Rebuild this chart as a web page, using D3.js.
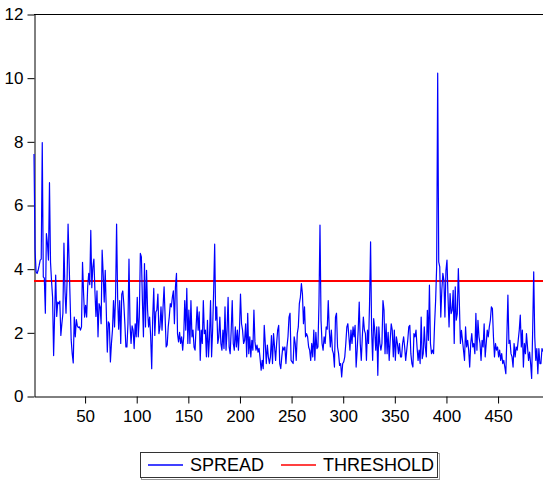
<!DOCTYPE html>
<html>
<head>
<meta charset="utf-8">
<script src="https://cdn.jsdelivr.net/npm/d3@7"></script>
<style>
  html, body { margin: 0; padding: 0; background: #fff; }
  svg { display: block; }
  text { font-family: "Liberation Sans", Arial, sans-serif; fill: #000; }
</style>
</head>
<body>
<div id="chart"></div>
<script>
const spread = [
  7.6, 4.6, 3.9, 3.85, 3.95, 4.1, 4.27, 4.3, 7.96, 3.74,
  3.7, 2.6, 5.1, 4.8, 4.27, 6.7, 4.2, 3.6, 3.1, 1.27,
  2.6, 3.8, 2.5, 2.95, 2.9, 2.98, 1.9, 2.27, 2.6, 4.8,
  3.3, 2.6, 3.58, 5.4, 4.2, 3.0, 1.77, 1.33, 1.04, 2.48,
  1.86, 2.4, 2.2, 2.15, 2.17, 2.07, 2.17, 4.2, 3.24, 2.48,
  2.85, 2.48, 3.43, 3.85,
  3.5, 5.2, 3.4, 4.05, 4.3, 3.3, 2.5, 3.3, 1.86, 2.9,
  2.8, 2.27, 4.58, 3.85, 2.95, 3.95, 2.7, 1.38, 2.33, 2.27,
  1.07, 1.65, 2.07, 3.0, 2.17, 3.1, 5.4, 3.1, 2.1, 3.0,
  1.65, 3.2, 3.3, 2.9, 2.27, 1.54, 1.54, 2.27, 4.3, 2.27,
  1.65, 2.2, 2.07, 1.49, 2.27, 1.86, 3.1, 1.86, 2.48, 4.48,
  4.37, 3.0, 1.86, 4.16, 2.17,
  3.95, 2.7, 2.17, 2.48, 1.86, 0.86, 2.48, 3.38, 1.9, 2.64,
  2.7, 3.2, 1.96, 2.17, 2.8, 2.07, 2.8, 3.43, 2.48, 1.54,
  1.6, 2.17, 2.48, 2.9, 2.8, 3.1, 3.3, 2.27, 3.43, 3.85,
  1.96, 1.7, 2.0, 1.65, 1.86, 1.44, 1.86, 3.0, 2.07, 3.38,
  1.65, 2.7, 1.65, 3.0, 1.86, 2.07, 1.54, 1.44, 2.17, 2.8,
  2.07, 2.64,
  1.12, 2.07, 1.65, 3.0, 1.96, 2.07, 1.23, 2.38, 1.23, 1.86,
  3.0, 1.23, 2.07, 3.3, 4.77, 2.38, 2.8, 1.65, 1.86, 2.48,
  1.65, 1.44, 2.07, 1.49, 2.8, 1.44, 2.07, 3.1, 1.54, 1.33,
  2.07, 3.0, 1.65, 1.44, 2.17, 1.54, 2.07, 1.44, 2.07, 3.2,
  2.27, 2.07, 1.65, 1.75, 2.27, 1.23, 2.6, 1.33, 1.86, 1.23,
  1.75, 1.44, 2.7,
  1.7, 1.44, 1.6, 1.38, 1.5, 1.17, 0.81, 1.12, 0.86, 2.22,
  1.65, 1.02, 1.6, 1.23, 1.02, 1.23, 1.9, 1.02, 1.96, 1.54,
  1.12, 1.65, 2.07, 2.22, 1.02, 0.86, 1.23, 1.54, 1.44, 1.54,
  1.02, 1.54, 1.86, 2.48, 2.6, 1.12, 1.07, 1.02, 1.86, 1.65,
  1.12, 1.96, 2.17, 2.9, 3.1, 3.53, 3.2, 2.27, 2.8, 1.86,
  1.96, 1.86, 1.54, 1.44,
  1.12, 1.65, 1.23, 2.07, 1.12, 2.0, 1.49, 1.54, 2.9, 5.37,
  2.38, 1.65, 1.44, 1.86, 1.65, 2.17, 2.1, 3.0, 2.07, 1.54,
  2.07, 1.44, 1.33, 0.91, 2.48, 2.6, 1.54, 1.33, 0.96, 1.02,
  0.6, 1.02, 1.07, 1.23, 1.65, 2.17, 2.27, 1.86, 1.44, 2.07,
  1.65, 2.17, 1.86, 2.22, 0.91, 1.44, 2.07, 2.95, 1.65, 1.12,
  1.86, 2.48, 2.07,
  1.96, 1.12, 2.07, 1.65, 2.9, 4.84, 2.07, 1.12, 2.43, 2.07,
  1.44, 2.17, 0.65, 2.17, 1.65, 1.44, 1.65, 3.0, 2.7, 1.33,
  2.27, 1.33, 2.0, 1.12, 1.75, 2.27, 2.07, 1.23, 2.07, 1.12,
  1.86, 1.65, 1.33, 1.65, 1.23, 1.23, 1.65, 1.86, 1.54, 1.12,
  1.44, 1.75, 2.17, 2.22, 1.33, 1.02, 0.91, 1.96, 1.86, 2.07,
  1.54, 1.12, 1.44, 1.02,
  2.48, 1.17, 1.33, 2.17, 1.54, 1.23, 2.69, 1.75, 3.48, 1.65,
  1.33, 1.44, 1.33, 2.27, 3.0, 4.06, 10.14, 4.21, 4.06, 2.48,
  3.32, 3.85, 3.64, 2.48, 3.95, 4.27, 3.11, 2.17, 3.22, 2.59,
  2.69, 3.32, 1.65, 3.43, 2.38, 2.59, 4.0, 2.9, 1.65, 2.06,
  1.75, 1.44, 1.12, 2.17, 1.54, 1.75, 1.44, 0.91, 1.65, 1.96,
  1.54, 1.65, 1.33,
  2.6, 1.44, 2.38, 1.86, 1.65, 1.12, 1.75, 1.54, 2.27, 1.23,
  1.65, 2.07, 1.86, 2.17, 2.38, 2.8, 2.75, 1.86, 1.23, 1.65,
  1.44, 1.54, 1.23, 1.44, 1.12, 1.33, 1.02, 1.12, 0.91, 0.7,
  1.86, 3.17, 1.65, 1.75, 1.33, 1.23, 0.91, 1.65, 1.23, 1.54,
  1.44, 1.75, 2.07, 2.54, 1.54, 2.07, 0.91, 1.65, 1.33, 1.96,
  1.54, 1.12, 1.38, 1.02, 0.55, 2.07, 3.9, 1.86, 1.12, 1.49,
  0.7, 1.49, 1.02, 1.02, 1.49, 1.4
];

// constant THRESHOLD series
const threshold = 3.6;

// tick values
const xTicks = [50, 100, 150, 200, 250, 300, 350, 400, 450];
const yTicks = [0, 2, 4, 6, 8, 10, 12];

// legend entries
const legendItems = ['SPREAD', 'THRESHOLD'];
const legendColors = ['#0000ff', '#ff0000'];

const width = 543;
const height = 482;
const plotLeft = 34, plotRight = 543, plotTop = 14, plotBottom = 396;

const svg = d3.select('#chart')
    .append('svg')
    .attr('width', width)
    .attr('height', height);

const x = d3.scaleLinear()
    .domain([1, spread.length])
    .range([plotLeft, plotRight]);

const y = d3.scaleLinear()
    .domain([0, 12])
    .range([plotBottom, plotTop]);

// frame: top line
svg.append('line')
    .attr('x1', plotLeft).attr('x2', plotRight)
    .attr('y1', plotTop + 0.5).attr('y2', plotTop + 0.5)
    .attr('stroke', '#000')
    .attr('stroke-width', 1);

// left axis
const yAxis = svg.append('g')
    .attr('transform', `translate(${plotLeft + 0.5},0.5)`)
    .call(d3.axisLeft(y).tickValues(yTicks).tickSize(7).tickSizeOuter(0).tickPadding(4));

// bottom axis
const xAxis = svg.append('g')
    .attr('transform', `translate(0.5,${plotBottom + 0.5})`)
    .call(d3.axisBottom(x).tickValues(xTicks).tickSize(7).tickSizeOuter(0).tickPadding(6));

[yAxis, xAxis].forEach(g => {
    g.selectAll('text')
        .style('font-family', '"Liberation Sans", Arial, sans-serif')
        .style('font-size', '17px')
        .attr('fill', '#000');
    g.selectAll('line, path').attr('stroke', '#000');
});

// threshold line
svg.append('line')
    .attr('x1', plotLeft).attr('x2', plotRight)
    .attr('y1', Math.round(y(threshold))).attr('y2', Math.round(y(threshold)))
    .attr('stroke', legendColors[1])
    .attr('stroke-width', 1.8);

// spread line
const line = d3.line()
    .x((d, i) => x(i + 1))
    .y(d => y(d));

svg.append('path')
    .datum(spread)
    .attr('fill', 'none')
    .attr('stroke', legendColors[0])
    .attr('stroke-width', 1.2)
    .attr('stroke-linejoin', 'round')
    .attr('d', line);

// legend box with a light shadow
const legend = svg.append('g').attr('transform', 'translate(140,452)');

legend.append('rect')
    .attr('x', 1.5).attr('y', 1.5)
    .attr('width', 298).attr('height', 26)
    .attr('fill', 'none')
    .attr('stroke', '#999');

legend.append('rect')
    .attr('x', 0.5).attr('y', 0.5)
    .attr('width', 297).attr('height', 25)
    .attr('fill', '#fff')
    .attr('stroke', '#333');

const legendX = [8, 141];
legendItems.forEach((name, i) => {
    legend.append('line')
        .attr('x1', legendX[i]).attr('x2', legendX[i] + 35)
        .attr('y1', 13).attr('y2', 13)
        .attr('stroke', legendColors[i])
        .attr('stroke-width', 1.6);
    legend.append('text')
        .attr('x', legendX[i] + 42)
        .attr('y', 19)
        .style('font-size', '18px')
        .text(name);
});
</script>
</body>
</html>
